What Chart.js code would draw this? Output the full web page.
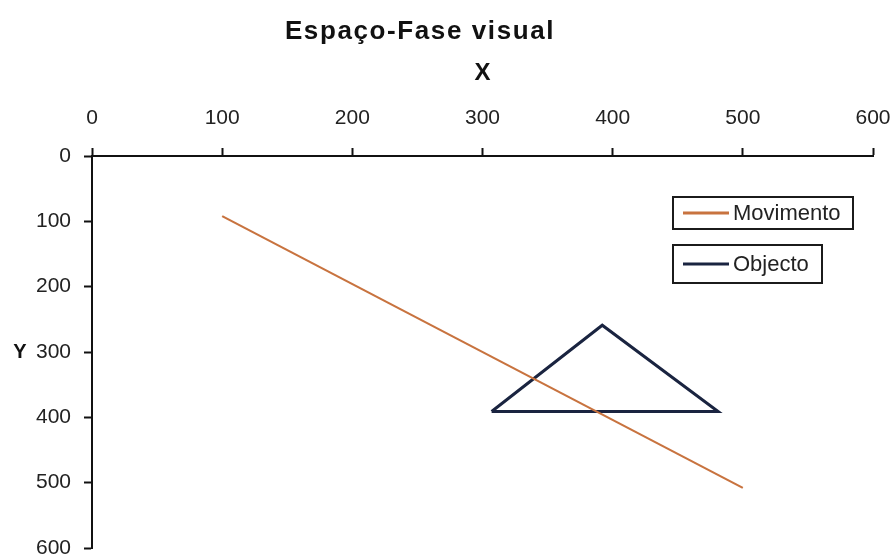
<!DOCTYPE html>
<html>
<head>
<meta charset="utf-8">
<script src="https://cdn.jsdelivr.net/npm/chart.js@4/dist/chart.umd.min.js"></script>
<style>
  html, body { margin: 0; padding: 0; background: #fff; }
  #wrap { width: 893px; height: 559px; }
</style>
</head>
<body>
<div id="wrap"><canvas id="c" width="893" height="559"></canvas></div>
<script>
// Path of the motion (x, y in screen units)
const movimentoX = [100, 500];
const movimentoY = [92, 508];
// Triangle outline of the object, closed back to its first vertex
const objectoX = [307, 392, 481, 307];
const objectoY = [391, 259, 391, 391];
// Axis ticks
const xTicks = [0, 100, 200, 300, 400, 500, 600];
const yTicks = [0, 100, 200, 300, 400, 500, 600];

const seriesNames = ['Movimento', 'Objecto'];
const seriesColors = ['#C8733F', '#1A2440'];

const toPoints = (xs, ys) => xs.map((x, i) => ({ x: x, y: ys[i] }));

// Title, axis names and the boxed legend entries
const annotations = {
  id: 'annotations',
  afterDraw(chart) {
    const ctx = chart.ctx;
    const area = chart.chartArea;
    ctx.save();
    ctx.fillStyle = '#111';
    ctx.textAlign = 'center';
    ctx.textBaseline = 'middle';
    ctx.font = 'bold 26px "Liberation Sans", Arial, sans-serif';
    ctx.letterSpacing = '1.6px';
    ctx.fillText('Espaço-Fase visual', 420, 32);
    ctx.letterSpacing = '0px';
    ctx.font = 'bold 24px "Liberation Sans", Arial, sans-serif';
    ctx.fillText('X', (area.left + area.right) / 2, 73);
    ctx.font = 'bold 20px "Liberation Sans", Arial, sans-serif';
    ctx.fillText('Y', 20, (area.top + area.bottom) / 2);

    // legend boxes
    const boxes = [
      { x: 673, y: 197, w: 180, h: 32 },
      { x: 673, y: 245, w: 149, h: 38 }
    ];
    ctx.font = '22px "Liberation Sans", Arial, sans-serif';
    ctx.textAlign = 'left';
    chart.data.datasets.forEach((ds, i) => {
      const b = boxes[i];
      ctx.lineWidth = 2;
      ctx.strokeStyle = '#1b1b1b';
      ctx.strokeRect(b.x, b.y, b.w, b.h);
      const cy = b.y + b.h / 2;
      ctx.strokeStyle = ds.borderColor;
      ctx.lineWidth = 3;
      ctx.beginPath();
      ctx.moveTo(683, cy);
      ctx.lineTo(729, cy);
      ctx.stroke();
      ctx.fillStyle = '#222';
      ctx.fillText(ds.label, 733, cy + 1);
    });
    ctx.restore();
  }
};

// keep the plot box fixed: no extra room reserved for overhanging tick labels
const noLabelPadding = (s) => {
  s.paddingLeft = 0; s.paddingRight = 0; s.paddingTop = 0; s.paddingBottom = 0;
};

new Chart(document.getElementById('c'), {
  type: 'scatter',
  data: {
    datasets: [
      {
        label: seriesNames[0],
        data: toPoints(movimentoX, movimentoY),
        showLine: true,
        borderColor: seriesColors[0],
        borderWidth: 2.2,
        pointRadius: 0,
        fill: false
      },
      {
        label: seriesNames[1],
        data: toPoints(objectoX, objectoY),
        showLine: true,
        borderColor: seriesColors[1],
        borderWidth: 3,
        pointRadius: 0,
        fill: false
      }
    ]
  },
  options: {
    responsive: false,
    animation: false,
    layout: { padding: { left: 0, right: 20, top: 0, bottom: 11 } },
    plugins: {
      legend: { display: false },
      title: { display: false },
      tooltip: { enabled: false }
    },
    scales: {
      x: {
        type: 'linear',
        position: 'top',
        min: 0,
        max: 600,
        afterBuildTicks: (s) => { s.ticks = xTicks.map(v => ({ value: v })); },
        afterFit: (s) => { s.height = 156; noLabelPadding(s); },
        ticks: {
          color: '#222',
          padding: 17,
          font: { family: '"Liberation Sans", Arial, sans-serif', size: 21 }
        },
        grid: {
          display: true,
          drawOnChartArea: false,
          drawTicks: true,
          tickLength: 8,
          tickColor: '#111',
          tickWidth: 2
        },
        border: { display: true, color: '#111', width: 2 }
      },
      y: {
        type: 'linear',
        reverse: true,
        min: 0,
        max: 600,
        afterBuildTicks: (s) => { s.ticks = yTicks.map(v => ({ value: v })); },
        afterFit: (s) => { s.width = 92; noLabelPadding(s); },
        ticks: {
          color: '#222',
          padding: 13,
          font: { family: '"Liberation Sans", Arial, sans-serif', size: 21 }
        },
        grid: {
          display: true,
          drawOnChartArea: false,
          drawTicks: true,
          tickLength: 8,
          tickColor: '#111',
          tickWidth: 2
        },
        border: { display: true, color: '#111', width: 2 }
      }
    }
  },
  plugins: [annotations]
});
</script>
</body>
</html>
